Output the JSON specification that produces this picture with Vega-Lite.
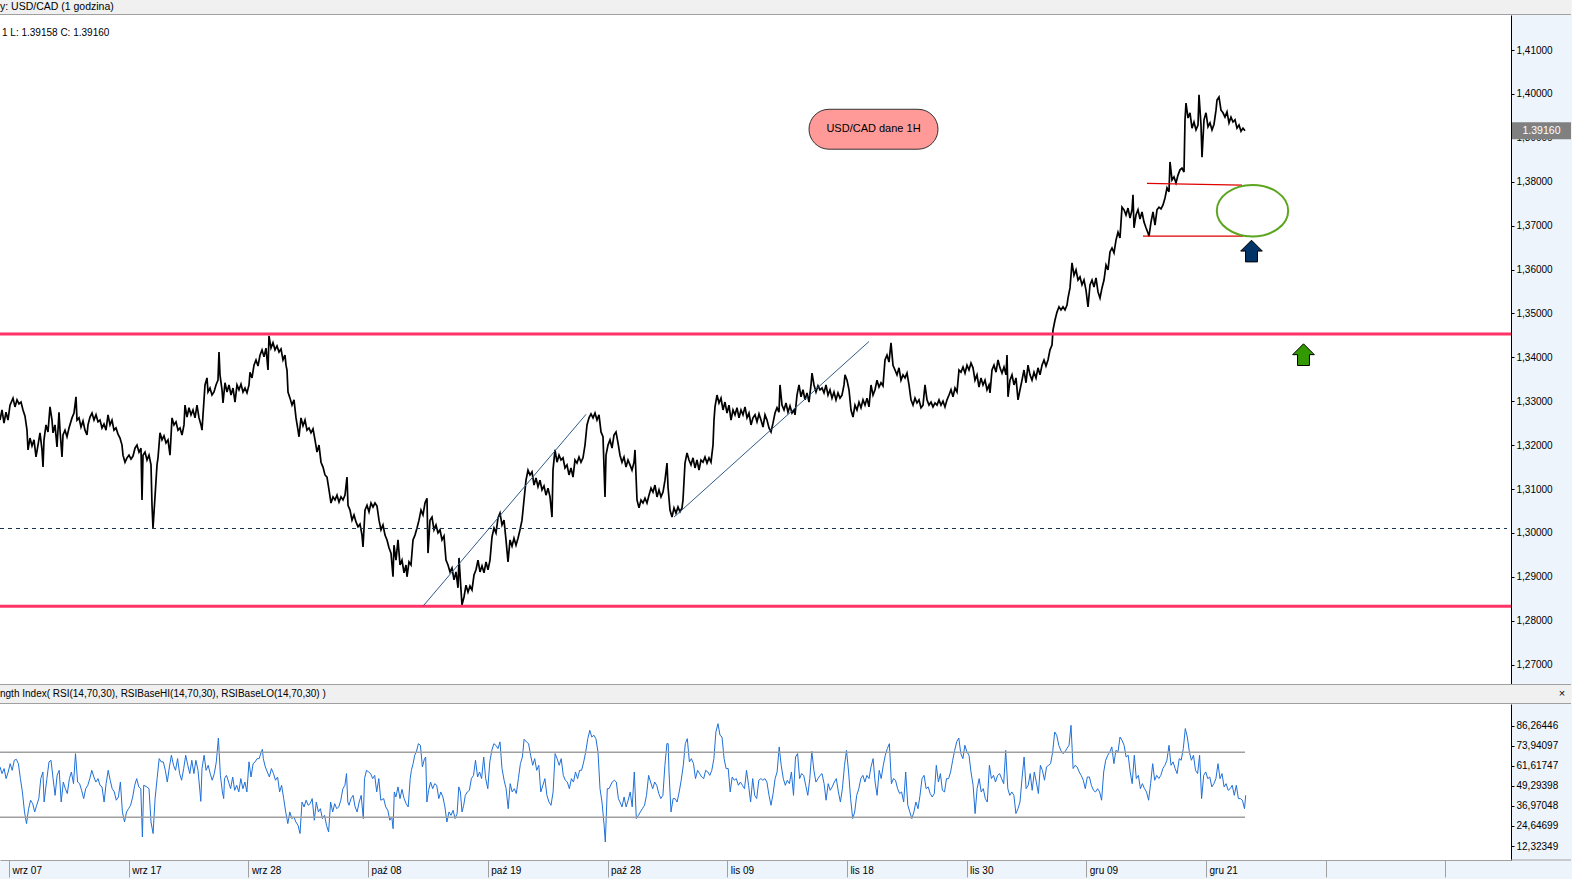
{
  "$schema": "https://vega.github.io/schema/vega-lite/v6.json",
  "description": "USD/CAD 1H with RSI panel",
  "background": "#eef4fc",
  "padding": 0,
  "spacing": 0,
  "config": {
    "font": "Liberation Sans",
    "view": {"stroke": null}
  },
  "datasets": {
    "price": [
      {"n":0,"p":1.3257},{"n":2,"p":1.3280},{"n":4,"p":1.3250},{"n":6,"p":1.3275},{"n":8,"p":1.3257},{"n":10,"p":1.3291},{"n":13,"p":1.3307},{"n":15,"p":1.3287},{"n":17,"p":1.3303},{"n":19,"p":1.3294},{"n":21,"p":1.3298},{"n":23,"p":1.3280},{"n":25,"p":1.3266},{"n":27,"p":1.3234},{"n":28,"p":1.3189},{"n":30,"p":1.3216},{"n":32,"p":1.3198},{"n":34,"p":1.3212},{"n":36,"p":1.3173},{"n":38,"p":1.3200},{"n":40,"p":1.3228},{"n":42,"p":1.3189},{"n":43,"p":1.3150},{"n":44,"p":1.3212},{"n":46,"p":1.3246},{"n":48,"p":1.3230},{"n":50,"p":1.3287},{"n":52,"p":1.3257},{"n":53,"p":1.3228},{"n":55,"p":1.3246},{"n":57,"p":1.3196},{"n":59,"p":1.3275},{"n":60,"p":1.3234},{"n":62,"p":1.3173},{"n":63,"p":1.3223},{"n":65,"p":1.3234},{"n":67,"p":1.3219},{"n":69,"p":1.3239},{"n":72,"p":1.3262},{"n":74,"p":1.3273},{"n":76,"p":1.3310},{"n":77,"p":1.3257},{"n":79,"p":1.3262},{"n":81,"p":1.3241},{"n":83,"p":1.3255},{"n":85,"p":1.3234},{"n":87,"p":1.3223},{"n":88,"p":1.3246},{"n":90,"p":1.3264},{"n":92,"p":1.3273},{"n":94,"p":1.3257},{"n":96,"p":1.3269},{"n":98,"p":1.3253},{"n":100,"p":1.3257},{"n":102,"p":1.3239},{"n":104,"p":1.3248},{"n":106,"p":1.3234},{"n":108,"p":1.3269},{"n":110,"p":1.3246},{"n":112,"p":1.3257},{"n":114,"p":1.3234},{"n":116,"p":1.3239},{"n":118,"p":1.3225},{"n":120,"p":1.3216},{"n":122,"p":1.3200},{"n":123,"p":1.3177},{"n":125,"p":1.3161},{"n":127,"p":1.3171},{"n":129,"p":1.3177},{"n":131,"p":1.3168},{"n":133,"p":1.3175},{"n":135,"p":1.3193},{"n":137,"p":1.3200},{"n":139,"p":1.3184},{"n":141,"p":1.3193},{"n":142,"p":1.3075},{"n":143,"p":1.3177},{"n":145,"p":1.3184},{"n":147,"p":1.3166},{"n":149,"p":1.3177},{"n":151,"p":1.3155},{"n":152,"p":1.3063},{"n":153,"p":1.3011},{"n":155,"p":1.3082},{"n":157,"p":1.3155},{"n":158,"p":1.3171},
      {"n":160,"p":1.3228},{"n":162,"p":1.3212},{"n":164,"p":1.3221},{"n":166,"p":1.3205},{"n":168,"p":1.3212},{"n":170,"p":1.3177},{"n":172,"p":1.3262},{"n":174,"p":1.3246},{"n":176,"p":1.3253},{"n":178,"p":1.3234},{"n":180,"p":1.3239},{"n":182,"p":1.3223},{"n":184,"p":1.3246},{"n":185,"p":1.3291},{"n":187,"p":1.3264},{"n":189,"p":1.3285},{"n":191,"p":1.3269},{"n":193,"p":1.3280},{"n":195,"p":1.3262},{"n":197,"p":1.3291},{"n":199,"p":1.3262},{"n":201,"p":1.3246},{"n":202,"p":1.3234},{"n":204,"p":1.3303},{"n":205,"p":1.3337},{"n":207,"p":1.3353},{"n":208,"p":1.3321},{"n":210,"p":1.3330},{"n":212,"p":1.3314},{"n":214,"p":1.3321},{"n":216,"p":1.3337},{"n":218,"p":1.3348},{"n":219,"p":1.3412},{"n":220,"p":1.3360},{"n":222,"p":1.3326},{"n":223,"p":1.3296},{"n":225,"p":1.3342},{"n":227,"p":1.3321},{"n":229,"p":1.3337},{"n":231,"p":1.3314},{"n":233,"p":1.3330},{"n":235,"p":1.3298},{"n":237,"p":1.3337},{"n":239,"p":1.3326},{"n":241,"p":1.3339},{"n":243,"p":1.3321},{"n":245,"p":1.3330},{"n":247,"p":1.3319},{"n":249,"p":1.3337},{"n":250,"p":1.3366},{"n":252,"p":1.3353},{"n":254,"p":1.3382},{"n":256,"p":1.3394},{"n":258,"p":1.3380},{"n":260,"p":1.3405},{"n":262,"p":1.3417},{"n":264,"p":1.3401},{"n":266,"p":1.3421},{"n":268,"p":1.3371},{"n":269,"p":1.3449},{"n":271,"p":1.3421},{"n":273,"p":1.3433},{"n":275,"p":1.3417},{"n":277,"p":1.3426},{"n":279,"p":1.3412},{"n":281,"p":1.3419},{"n":283,"p":1.3394},{"n":285,"p":1.3405},{"n":286,"p":1.3382},{"n":287,"p":1.3371},{"n":288,"p":1.3321},{"n":290,"p":1.3307},{"n":292,"p":1.3291},{"n":294,"p":1.3303},{"n":296,"p":1.3262},{"n":298,"p":1.3234},{"n":299,"p":1.3219},{"n":301,"p":1.3262},{"n":303,"p":1.3244},{"n":305,"p":1.3257},{"n":307,"p":1.3234},{"n":309,"p":1.3239},{"n":311,"p":1.3228},{"n":313,"p":1.3237},{"n":315,"p":1.3212},{"n":317,"p":1.3184},{"n":319,"p":1.3200},
      {"n":321,"p":1.3161},{"n":323,"p":1.3150},{"n":325,"p":1.3132},{"n":327,"p":1.3127},{"n":329,"p":1.3098},{"n":331,"p":1.3068},{"n":333,"p":1.3082},{"n":335,"p":1.3075},{"n":337,"p":1.3086},{"n":339,"p":1.3070},{"n":341,"p":1.3082},{"n":343,"p":1.3075},{"n":345,"p":1.3086},{"n":347,"p":1.3127},{"n":348,"p":1.3063},{"n":350,"p":1.3052},{"n":352,"p":1.3029},{"n":354,"p":1.3041},{"n":356,"p":1.3025},{"n":358,"p":1.3014},{"n":360,"p":1.3020},{"n":362,"p":1.2995},{"n":363,"p":1.2968},{"n":365,"p":1.3052},{"n":367,"p":1.3063},{"n":369,"p":1.3048},{"n":371,"p":1.3068},{"n":373,"p":1.3059},{"n":375,"p":1.3068},{"n":377,"p":1.3061},{"n":379,"p":1.3029},{"n":381,"p":1.3007},{"n":383,"p":1.3018},{"n":385,"p":1.2995},{"n":387,"p":1.2984},{"n":389,"p":1.2966},{"n":391,"p":1.2954},{"n":393,"p":1.2900},{"n":394,"p":1.2972},{"n":396,"p":1.2938},{"n":398,"p":1.2984},{"n":400,"p":1.2927},{"n":402,"p":1.2938},{"n":404,"p":1.2909},{"n":406,"p":1.2927},{"n":407,"p":1.2900},{"n":409,"p":1.2934},{"n":411,"p":1.2927},{"n":413,"p":1.2984},{"n":415,"p":1.2995},{"n":417,"p":1.3011},{"n":419,"p":1.3029},{"n":421,"p":1.3052},{"n":423,"p":1.3041},{"n":425,"p":1.3068},{"n":427,"p":1.3079},{"n":428,"p":1.2954},{"n":430,"p":1.3029},{"n":432,"p":1.3036},{"n":434,"p":1.3007},{"n":436,"p":1.3018},{"n":438,"p":1.3000},{"n":440,"p":1.3007},{"n":442,"p":1.2984},{"n":444,"p":1.2993},{"n":446,"p":1.2938},{"n":448,"p":1.2927},{"n":450,"p":1.2911},{"n":452,"p":1.2920},{"n":454,"p":1.2893},{"n":456,"p":1.2911},{"n":458,"p":1.2875},{"n":459,"p":1.2943},{"n":461,"p":1.2870},{"n":462,"p":1.2836},{"n":464,"p":1.2854},{"n":466,"p":1.2881},{"n":468,"p":1.2865},{"n":470,"p":1.2879},{"n":472,"p":1.2870},{"n":474,"p":1.2904},{"n":476,"p":1.2916},{"n":478,"p":1.2938},{"n":480,"p":1.2911},{"n":482,"p":1.2925},{"n":484,"p":1.2909},{"n":486,"p":1.2934},{"n":488,"p":1.2916},{"n":490,"p":1.2938},
      {"n":492,"p":1.2991},{"n":494,"p":1.3011},{"n":496,"p":1.3000},{"n":498,"p":1.3034},{"n":500,"p":1.3045},{"n":502,"p":1.3018},{"n":504,"p":1.3029},{"n":506,"p":1.2984},{"n":508,"p":1.2934},{"n":510,"p":1.2984},{"n":512,"p":1.2970},{"n":514,"p":1.2988},{"n":516,"p":1.2972},{"n":518,"p":1.2988},{"n":520,"p":1.3007},{"n":522,"p":1.3029},{"n":524,"p":1.3075},{"n":526,"p":1.3120},{"n":528,"p":1.3143},{"n":530,"p":1.3132},{"n":532,"p":1.3139},{"n":534,"p":1.3109},{"n":536,"p":1.3125},{"n":538,"p":1.3105},{"n":540,"p":1.3120},{"n":542,"p":1.3098},{"n":544,"p":1.3107},{"n":546,"p":1.3086},{"n":548,"p":1.3102},{"n":550,"p":1.3082},{"n":552,"p":1.3036},{"n":553,"p":1.3143},{"n":555,"p":1.3189},{"n":557,"p":1.3161},{"n":559,"p":1.3177},{"n":561,"p":1.3166},{"n":563,"p":1.3171},{"n":565,"p":1.3148},{"n":567,"p":1.3155},{"n":569,"p":1.3132},{"n":571,"p":1.3148},{"n":573,"p":1.3127},{"n":575,"p":1.3166},{"n":577,"p":1.3159},{"n":579,"p":1.3173},{"n":581,"p":1.3161},{"n":583,"p":1.3171},{"n":585,"p":1.3200},{"n":587,"p":1.3246},{"n":589,"p":1.3262},{"n":591,"p":1.3271},{"n":593,"p":1.3262},{"n":595,"p":1.3273},{"n":597,"p":1.3257},{"n":599,"p":1.3269},{"n":601,"p":1.3230},{"n":603,"p":1.3219},{"n":605,"p":1.3082},{"n":606,"p":1.3177},{"n":608,"p":1.3200},{"n":610,"p":1.3212},{"n":612,"p":1.3193},{"n":614,"p":1.3223},{"n":616,"p":1.3230},{"n":618,"p":1.3205},{"n":620,"p":1.3177},{"n":622,"p":1.3161},{"n":624,"p":1.3173},{"n":626,"p":1.3150},{"n":628,"p":1.3166},{"n":630,"p":1.3155},{"n":632,"p":1.3143},{"n":634,"p":1.3161},{"n":635,"p":1.3189},{"n":637,"p":1.3075},{"n":639,"p":1.3057},{"n":641,"p":1.3075},{"n":643,"p":1.3068},{"n":645,"p":1.3079},{"n":647,"p":1.3068},{"n":649,"p":1.3086},{"n":651,"p":1.3102},{"n":653,"p":1.3093},{"n":655,"p":1.3109},{"n":657,"p":1.3082},{"n":659,"p":1.3098},{"n":661,"p":1.3082},{"n":663,"p":1.3093},{"n":665,"p":1.3120},{"n":667,"p":1.3159},{"n":668,"p":1.3105},
      {"n":670,"p":1.3052},{"n":672,"p":1.3036},{"n":674,"p":1.3057},{"n":676,"p":1.3045},{"n":678,"p":1.3059},{"n":680,"p":1.3048},{"n":682,"p":1.3057},{"n":683,"p":1.3075},{"n":685,"p":1.3159},{"n":687,"p":1.3182},{"n":689,"p":1.3166},{"n":691,"p":1.3155},{"n":693,"p":1.3171},{"n":695,"p":1.3148},{"n":697,"p":1.3166},{"n":699,"p":1.3143},{"n":701,"p":1.3166},{"n":703,"p":1.3161},{"n":705,"p":1.3173},{"n":707,"p":1.3159},{"n":709,"p":1.3171},{"n":711,"p":1.3161},{"n":713,"p":1.3200},{"n":714,"p":1.3257},{"n":715,"p":1.3287},{"n":717,"p":1.3314},{"n":719,"p":1.3296},{"n":721,"p":1.3307},{"n":723,"p":1.3280},{"n":725,"p":1.3298},{"n":727,"p":1.3273},{"n":729,"p":1.3291},{"n":731,"p":1.3257},{"n":733,"p":1.3280},{"n":735,"p":1.3269},{"n":737,"p":1.3285},{"n":739,"p":1.3262},{"n":741,"p":1.3280},{"n":743,"p":1.3269},{"n":745,"p":1.3287},{"n":747,"p":1.3262},{"n":749,"p":1.3273},{"n":751,"p":1.3246},{"n":753,"p":1.3262},{"n":755,"p":1.3269},{"n":757,"p":1.3253},{"n":759,"p":1.3271},{"n":761,"p":1.3257},{"n":763,"p":1.3241},{"n":765,"p":1.3269},{"n":767,"p":1.3257},{"n":769,"p":1.3239},{"n":771,"p":1.3230},{"n":773,"p":1.3250},{"n":775,"p":1.3273},{"n":777,"p":1.3285},{"n":779,"p":1.3275},{"n":780,"p":1.3337},{"n":782,"p":1.3291},{"n":784,"p":1.3280},{"n":786,"p":1.3296},{"n":788,"p":1.3275},{"n":790,"p":1.3289},{"n":792,"p":1.3273},{"n":794,"p":1.3280},{"n":795,"p":1.3269},{"n":797,"p":1.3314},{"n":799,"p":1.3337},{"n":801,"p":1.3310},{"n":803,"p":1.3326},{"n":805,"p":1.3303},{"n":807,"p":1.3319},{"n":809,"p":1.3298},{"n":811,"p":1.3337},{"n":812,"p":1.3364},{"n":814,"p":1.3337},{"n":816,"p":1.3321},{"n":818,"p":1.3335},{"n":820,"p":1.3326},{"n":822,"p":1.3330},{"n":824,"p":1.3319},{"n":826,"p":1.3337},{"n":828,"p":1.3314},{"n":830,"p":1.3326},{"n":832,"p":1.3307},{"n":834,"p":1.3321},{"n":836,"p":1.3303},{"n":838,"p":1.3319},{"n":840,"p":1.3307},{"n":842,"p":1.3314},{"n":844,"p":1.3337},{"n":845,"p":1.3360},{"n":847,"p":1.3348},{"n":849,"p":1.3326},
      {"n":851,"p":1.3280},{"n":853,"p":1.3264},{"n":855,"p":1.3291},{"n":857,"p":1.3280},{"n":859,"p":1.3298},{"n":861,"p":1.3285},{"n":863,"p":1.3303},{"n":865,"p":1.3291},{"n":867,"p":1.3307},{"n":869,"p":1.3287},{"n":871,"p":1.3337},{"n":873,"p":1.3314},{"n":875,"p":1.3326},{"n":877,"p":1.3348},{"n":879,"p":1.3332},{"n":881,"p":1.3342},{"n":883,"p":1.3335},{"n":885,"p":1.3394},{"n":887,"p":1.3405},{"n":889,"p":1.3389},{"n":891,"p":1.3433},{"n":893,"p":1.3382},{"n":895,"p":1.3371},{"n":897,"p":1.3360},{"n":899,"p":1.3376},{"n":901,"p":1.3348},{"n":903,"p":1.3360},{"n":905,"p":1.3353},{"n":907,"p":1.3364},{"n":909,"p":1.3337},{"n":911,"p":1.3303},{"n":913,"p":1.3291},{"n":915,"p":1.3307},{"n":917,"p":1.3296},{"n":919,"p":1.3303},{"n":921,"p":1.3285},{"n":923,"p":1.3291},{"n":925,"p":1.3337},{"n":927,"p":1.3303},{"n":929,"p":1.3291},{"n":931,"p":1.3298},{"n":933,"p":1.3287},{"n":935,"p":1.3296},{"n":937,"p":1.3291},{"n":939,"p":1.3303},{"n":941,"p":1.3291},{"n":943,"p":1.3300},{"n":945,"p":1.3287},{"n":947,"p":1.3303},{"n":949,"p":1.3314},{"n":951,"p":1.3326},{"n":953,"p":1.3310},{"n":955,"p":1.3330},{"n":957,"p":1.3321},{"n":959,"p":1.3371},{"n":961,"p":1.3366},{"n":963,"p":1.3378},{"n":965,"p":1.3364},{"n":967,"p":1.3382},{"n":969,"p":1.3371},{"n":971,"p":1.3387},{"n":973,"p":1.3376},{"n":975,"p":1.3348},{"n":977,"p":1.3360},{"n":979,"p":1.3332},{"n":981,"p":1.3353},{"n":983,"p":1.3337},{"n":985,"p":1.3348},{"n":987,"p":1.3326},{"n":989,"p":1.3337},{"n":990,"p":1.3319},{"n":992,"p":1.3371},{"n":994,"p":1.3382},{"n":996,"p":1.3366},{"n":998,"p":1.3394},{"n":1000,"p":1.3376},{"n":1002,"p":1.3364},{"n":1004,"p":1.3378},{"n":1006,"p":1.3360},{"n":1007,"p":1.3405},{"n":1008,"p":1.3310},{"n":1010,"p":1.3348},{"n":1012,"p":1.3360},{"n":1014,"p":1.3337},{"n":1016,"p":1.3353},{"n":1018,"p":1.3303},{"n":1020,"p":1.3326},{"n":1022,"p":1.3348},{"n":1024,"p":1.3371},{"n":1026,"p":1.3342},{"n":1028,"p":1.3382},{"n":1030,"p":1.3360},{"n":1032,"p":1.3348},{"n":1034,"p":1.3366},{"n":1036,"p":1.3353},{"n":1038,"p":1.3376},{"n":1040,"p":1.3360},{"n":1042,"p":1.3382},{"n":1044,"p":1.3394},{"n":1046,"p":1.3380},{"n":1048,"p":1.3394},
      {"n":1050,"p":1.3417},{"n":1052,"p":1.3428},{"n":1053,"p":1.3462},{"n":1055,"p":1.3485},{"n":1057,"p":1.3503},{"n":1059,"p":1.3515},{"n":1061,"p":1.3508},{"n":1063,"p":1.3515},{"n":1065,"p":1.3508},{"n":1067,"p":1.3519},{"n":1068,"p":1.3535},{"n":1070,"p":1.3558},{"n":1072,"p":1.3615},{"n":1074,"p":1.3587},{"n":1076,"p":1.3599},{"n":1078,"p":1.3576},{"n":1080,"p":1.3583},{"n":1082,"p":1.3565},{"n":1084,"p":1.3576},{"n":1086,"p":1.3553},{"n":1088,"p":1.3515},{"n":1090,"p":1.3565},{"n":1092,"p":1.3576},{"n":1094,"p":1.3560},{"n":1096,"p":1.3581},{"n":1098,"p":1.3549},{"n":1100,"p":1.3535},{"n":1102,"p":1.3558},{"n":1104,"p":1.3576},{"n":1106,"p":1.3610},{"n":1108,"p":1.3599},{"n":1110,"p":1.3640},{"n":1112,"p":1.3649},{"n":1114,"p":1.3638},{"n":1116,"p":1.3667},{"n":1118,"p":1.3685},{"n":1120,"p":1.3672},{"n":1122,"p":1.3742},{"n":1124,"p":1.3736},{"n":1126,"p":1.3724},{"n":1128,"p":1.3740},{"n":1130,"p":1.3717},{"n":1132,"p":1.3736},{"n":1133,"p":1.3770},{"n":1134,"p":1.3695},{"n":1136,"p":1.3724},{"n":1138,"p":1.3736},{"n":1140,"p":1.3715},{"n":1142,"p":1.3731},{"n":1144,"p":1.3708},{"n":1146,"p":1.3695},{"n":1148,"p":1.3683},{"n":1149,"p":1.3676},{"n":1151,"p":1.3708},{"n":1153,"p":1.3731},{"n":1155,"p":1.3701},{"n":1157,"p":1.3736},{"n":1159,"p":1.3742},{"n":1161,"p":1.3738},{"n":1163,"p":1.3747},{"n":1165,"p":1.3763},{"n":1167,"p":1.3786},{"n":1169,"p":1.3777},{"n":1170,"p":1.3845},{"n":1172,"p":1.3804},{"n":1174,"p":1.3811},{"n":1176,"p":1.3797},{"n":1178,"p":1.3815},{"n":1180,"p":1.3827},{"n":1182,"p":1.3831},{"n":1184,"p":1.3822},{"n":1185,"p":1.3941},{"n":1186,"p":1.3979},{"n":1188,"p":1.3945},{"n":1190,"p":1.3957},{"n":1192,"p":1.3922},{"n":1194,"p":1.3936},{"n":1196,"p":1.3918},{"n":1198,"p":1.3929},{"n":1199,"p":1.3998},{"n":1201,"p":1.3929},{"n":1202,"p":1.3856},{"n":1204,"p":1.3941},{"n":1206,"p":1.3957},{"n":1208,"p":1.3925},{"n":1210,"p":1.3934},{"n":1212,"p":1.3918},{"n":1214,"p":1.3931},{"n":1216,"p":1.3963},{"n":1217,"p":1.3986},{"n":1219,"p":1.3993},{"n":1221,"p":1.3963},{"n":1223,"p":1.3957},{"n":1225,"p":1.3947},{"n":1227,"p":1.3959},{"n":1229,"p":1.3934},{"n":1231,"p":1.3947},{"n":1233,"p":1.3936},{"n":1235,"p":1.3941},{"n":1237,"p":1.3922},{"n":1239,"p":1.3929},{"n":1241,"p":1.3915},{"n":1243,"p":1.3922},{"n":1245,"p":1.3916}
    ],
    "rsi": [
      {"n":0,"r":61.0},{"n":2.0,"r":56.9},{"n":4.1,"r":60.0},{"n":6.1,"r":53.8},{"n":8.2,"r":57.9},{"n":10.2,"r":63.0},{"n":12.2,"r":58.9},{"n":14.3,"r":65.1},{"n":16.3,"r":65.7},{"n":18.4,"r":63.0},{"n":20.4,"r":53.8},{"n":22.4,"r":45.6},{"n":24.5,"r":33.3},{"n":26.5,"r":26.1},{"n":28.6,"r":35.3},{"n":30.6,"r":40.5},{"n":32.7,"r":38.4},{"n":34.7,"r":33.3},{"n":36.7,"r":37.4},{"n":38.8,"r":41.5},{"n":40.8,"r":53.8},{"n":42.9,"r":57.9},{"n":44.1,"r":39.4},{"n":46.9,"r":53.8},{"n":49.0,"r":64.1},{"n":51.0,"r":65.1},{"n":53.1,"r":53.8},{"n":55.1,"r":43.5},{"n":57.1,"r":55.8},{"n":59.2,"r":58.9},{"n":61.2,"r":39.4},{"n":63.3,"r":51.7},{"n":65.3,"r":47.6},{"n":67.3,"r":44.6},{"n":69.4,"r":53.8},{"n":71.4,"r":57.9},{"n":73.5,"r":50.7},{"n":75.5,"r":69.2},{"n":77.6,"r":51.7},{"n":79.6,"r":50.7},{"n":81.6,"r":46.6},{"n":83.7,"r":41.5},{"n":85.7,"r":47.6},{"n":87.8,"r":49.7},{"n":89.8,"r":53.8},{"n":91.8,"r":58.9},{"n":93.9,"r":54.8},{"n":95.9,"r":51.7},{"n":98.0,"r":53.8},{"n":100.0,"r":49.7},{"n":102.0,"r":48.7},{"n":104.1,"r":39.4},{"n":106.1,"r":50.7},{"n":108.2,"r":58.9},{"n":110.2,"r":52.8},{"n":112.2,"r":47.6},{"n":114.3,"r":45.6},{"n":116.3,"r":40.5},{"n":118.4,"r":42.5},{"n":120.4,"r":51.7},{"n":122.4,"r":33.3},{"n":124.5,"r":27.1},{"n":126.5,"r":33.3},{"n":128.6,"r":35.3},{"n":130.6,"r":37.4},{"n":132.7,"r":42.5},{"n":134.7,"r":49.7},{"n":136.7,"r":53.8},{"n":138.8,"r":48.7},{"n":140.8,"r":47.6},{"n":142.4,"r":17.9},{"n":143.7,"r":49.7},{"n":146.9,"r":48.7},{"n":149.0,"r":47.6},{"n":151.0,"r":27.1},{"n":153.1,"r":20.0},{"n":155.1,"r":41.5},{"n":157.1,"r":53.8},{"n":159.2,"r":66.1},{"n":161.2,"r":64.1},{"n":163.3,"r":64.1},{"n":165.3,"r":58.9},{"n":167.3,"r":51.7},{"n":169.4,"r":61.0},{"n":171.4,"r":68.2},{"n":173.5,"r":62.0},{"n":175.5,"r":58.9},{"n":177.6,"r":66.1},{"n":179.6,"r":56.9},{"n":181.6,"r":52.8},{"n":183.7,"r":60.0},{"n":185.7,"r":68.2},{"n":187.8,"r":62.0},{"n":189.8,"r":56.9},{"n":191.8,"r":65.1},{"n":193.9,"r":56.9},{"n":195.9,"r":65.1},{"n":198.0,"r":58.9},{"n":200.0,"r":45.6},{"n":200.8,"r":39.8},{"n":202.0,"r":60.0},{"n":204.1,"r":68.2},{"n":206.1,"r":58.9},{"n":208.2,"r":62.0},{"n":210.2,"r":56.9},{"n":212.2,"r":52.8},{"n":214.3,"r":56.9},{"n":216.3,"r":64.1},{"n":218.4,"r":78.8},{"n":220.4,"r":55.8},{"n":222.4,"r":45.6},{"n":223.7,"r":41.5},{"n":224.5,"r":53.8},{"n":226.5,"r":55.8},{"n":228.6,"r":51.7},{"n":230.6,"r":47.6},{"n":232.7,"r":54.8},{"n":234.7,"r":46.6},{"n":236.7,"r":49.7},{"n":238.8,"r":45.6},{"n":240.8,"r":53.8},{"n":242.9,"r":47.6},{"n":244.9,"r":51.7},{"n":246.9,"r":45.6},{"n":249.0,"r":64.1},{"n":251.0,"r":54.8},{"n":253.1,"r":63.0},{"n":255.1,"r":64.1},{"n":257.1,"r":66.1},{"n":259.2,"r":66.1},{"n":261.2,"r":70.2},{"n":262.4,"r":71.8},{"n":263.3,"r":66.1},{"n":265.3,"r":61.0},{"n":267.3,"r":57.9},{"n":269.4,"r":54.8},{"n":271.4,"r":60.0},{"n":273.5,"r":56.9},{"n":275.5,"r":52.8},{"n":277.6,"r":54.8},{"n":279.6,"r":45.6},{"n":281.6,"r":49.7},{"n":283.7,"r":41.5},{"n":285.7,"r":33.3},{"n":287.8,"r":26.1},{"n":289.8,"r":33.3},{"n":291.8,"r":29.2},{"n":293.9,"r":30.2},{"n":295.9,"r":27.1},{"n":298.0,"r":25.1},{"n":300.0,"r":20.0},{"n":302.0,"r":39.4},{"n":304.1,"r":36.4},{"n":306.1,"r":40.5},{"n":308.2,"r":37.4},{"n":310.2,"r":38.4},{"n":312.2,"r":41.5},{"n":314.3,"r":28.2},{"n":316.3,"r":39.4},{"n":318.4,"r":33.3},{"n":320.4,"r":35.3},{"n":322.4,"r":29.2},{"n":324.5,"r":31.2},{"n":326.5,"r":25.1},{"n":328.6,"r":21.0},{"n":330.6,"r":39.4},{"n":332.7,"r":33.3},{"n":334.7,"r":38.4},{"n":336.7,"r":35.3},{"n":338.8,"r":36.4},{"n":340.8,"r":40.5},{"n":342.9,"r":47.6},{"n":344.9,"r":49.7},{"n":346.5,"r":56.9},{"n":347.8,"r":39.4},{"n":349.0,"r":37.4},{"n":351.0,"r":41.5},{"n":353.1,"r":43.5},{"n":355.1,"r":36.4},{"n":357.1,"r":33.3},{"n":359.2,"r":39.4},{"n":361.2,"r":43.5},{"n":363.3,"r":29.2},{"n":364.5,"r":53.8},{"n":366.5,"r":58.9},{"n":368.6,"r":57.9},{"n":370.6,"r":56.9},{"n":372.7,"r":53.8},{"n":374.7,"r":55.8},{"n":376.7,"r":45.6},{"n":378.8,"r":53.8},{"n":380.8,"r":40.5},{"n":383.7,"r":41.5},{"n":385.7,"r":36.4},{"n":387.8,"r":34.3},{"n":389.8,"r":28.2},{"n":391.8,"r":30.2},{"n":393.1,"r":23.0},{"n":394.3,"r":45.6},{"n":395.9,"r":42.5},{"n":398.0,"r":48.7},{"n":400.0,"r":41.5},{"n":402.0,"r":47.2},{"n":404.1,"r":41.5},{"n":406.1,"r":38.4},{"n":408.2,"r":36.4},{"n":410.2,"r":53.8},{"n":411.4,"r":58.9},{"n":413.1,"r":63.0},{"n":414.7,"r":68.2},{"n":416.3,"r":70.2},{"n":418.4,"r":75.3},{"n":420.4,"r":74.3},{"n":422.4,"r":61.0},{"n":424.5,"r":66.1},{"n":425.7,"r":67.1},{"n":426.9,"r":39.4},{"n":428.6,"r":46.6},{"n":430.6,"r":51.7},{"n":432.7,"r":47.6},{"n":434.7,"r":50.7},{"n":436.7,"r":49.7},{"n":438.8,"r":41.5},{"n":440.8,"r":45.6},{"n":442.9,"r":42.5},{"n":444.9,"r":36.4},{"n":446.9,"r":27.1},{"n":449.0,"r":33.3},{"n":451.0,"r":31.2},{"n":453.1,"r":34.3},{"n":455.1,"r":29.2},{"n":457.1,"r":32.3},{"n":458.8,"r":48.7},{"n":460.4,"r":45.6},{"n":462.0,"r":33.3},{"n":463.7,"r":37.4},{"n":465.3,"r":43.5},{"n":467.3,"r":45.6},{"n":469.4,"r":46.6},{"n":471.4,"r":53.8},{"n":473.5,"r":55.8},{"n":475.5,"r":65.1},{"n":477.6,"r":54.8},{"n":479.6,"r":57.9},{"n":481.6,"r":53.8},{"n":483.7,"r":67.1},{"n":485.7,"r":53.8},{"n":487.8,"r":47.6},{"n":489.8,"r":64.1},{"n":491.8,"r":71.2},{"n":493.9,"r":75.3},{"n":495.9,"r":74.3},{"n":498.0,"r":72.3},{"n":500.0,"r":76.4},{"n":502.0,"r":60.0},{"n":504.1,"r":52.8},{"n":506.1,"r":47.6},{"n":508.2,"r":35.3},{"n":510.2,"r":50.7},{"n":512.2,"r":45.6},{"n":514.3,"r":47.6},{"n":516.3,"r":44.6},{"n":518.4,"r":53.8},{"n":520.4,"r":63.0},{"n":522.4,"r":67.1},{"n":524.1,"r":78.0},{"n":526.5,"r":76.4},{"n":528.6,"r":75.3},{"n":530.6,"r":68.2},{"n":532.7,"r":62.0},{"n":534.7,"r":66.1},{"n":536.7,"r":58.9},{"n":538.8,"r":62.0},{"n":540.8,"r":45.6},{"n":542.9,"r":49.7},{"n":544.9,"r":53.8},{"n":546.9,"r":43.5},{"n":549.0,"r":39.4},{"n":551.0,"r":37.4},{"n":553.1,"r":45.6},{"n":555.1,"r":69.2},{"n":557.1,"r":66.1},{"n":559.2,"r":62.0},{"n":561.2,"r":66.1},{"n":563.3,"r":55.8},{"n":565.3,"r":52.8},{"n":567.3,"r":51.7},{"n":569.4,"r":47.6},{"n":571.4,"r":53.8},{"n":573.5,"r":51.7},{"n":575.5,"r":57.9},{"n":577.6,"r":53.8},{"n":579.6,"r":58.9},{"n":581.6,"r":58.9},{"n":583.7,"r":64.1},{"n":585.7,"r":70.2},{"n":587.8,"r":78.4},{"n":589.8,"r":83.5},{"n":591.8,"r":79.4},{"n":593.9,"r":80.5},{"n":595.9,"r":78.4},{"n":598.0,"r":70.2},{"n":600.0,"r":47.6},{"n":602.0,"r":39.4},{"n":604.1,"r":25.1},{"n":605.3,"r":14.8},{"n":607.3,"r":47.6},{"n":609.0,"r":47.6},{"n":612.2,"r":51.7},{"n":614.3,"r":52.8},{"n":616.3,"r":51.7},{"n":618.4,"r":41.5},
      {"n":620.0,"r":39.4},{"n":622.0,"r":36.4},{"n":624.1,"r":42.5},{"n":626.1,"r":36.4},{"n":628.2,"r":40.5},{"n":630.2,"r":45.6},{"n":632.2,"r":36.4},{"n":634.3,"r":57.9},{"n":636.3,"r":29.2},{"n":638.4,"r":31.2},{"n":640.4,"r":33.3},{"n":642.4,"r":35.3},{"n":644.5,"r":37.4},{"n":646.5,"r":43.5},{"n":648.6,"r":55.8},{"n":650.6,"r":51.7},{"n":652.7,"r":47.6},{"n":654.7,"r":51.7},{"n":656.7,"r":49.7},{"n":658.8,"r":44.6},{"n":660.8,"r":41.5},{"n":662.9,"r":43.5},{"n":664.9,"r":62.0},{"n":666.9,"r":75.3},{"n":668.2,"r":75.3},{"n":669.0,"r":57.9},{"n":671.0,"r":33.3},{"n":673.1,"r":41.5},{"n":675.1,"r":41.5},{"n":677.1,"r":39.4},{"n":679.2,"r":45.6},{"n":681.2,"r":52.8},{"n":683.3,"r":62.0},{"n":685.3,"r":75.3},{"n":687.3,"r":78.4},{"n":689.4,"r":64.1},{"n":691.4,"r":66.1},{"n":693.5,"r":63.0},{"n":695.5,"r":53.8},{"n":697.6,"r":58.9},{"n":699.6,"r":56.9},{"n":701.6,"r":54.8},{"n":703.7,"r":53.8},{"n":705.7,"r":58.9},{"n":707.8,"r":57.9},{"n":709.8,"r":55.8},{"n":711.8,"r":58.9},{"n":713.9,"r":66.1},{"n":715.9,"r":82.5},{"n":718.0,"r":87.6},{"n":720.0,"r":80.5},{"n":722.0,"r":79.4},{"n":724.1,"r":66.1},{"n":726.1,"r":60.0},{"n":728.2,"r":60.0},{"n":730.2,"r":45.6},{"n":732.2,"r":54.8},{"n":734.3,"r":52.8},{"n":736.3,"r":53.8},{"n":738.4,"r":49.7},{"n":740.4,"r":51.7},{"n":742.4,"r":49.7},{"n":744.5,"r":47.6},{"n":746.5,"r":58.9},{"n":748.6,"r":49.7},{"n":750.6,"r":39.4},{"n":752.7,"r":53.8},{"n":754.7,"r":43.5},{"n":756.7,"r":41.5},{"n":758.8,"r":52.8},{"n":760.8,"r":53.8},{"n":762.9,"r":52.8},{"n":764.9,"r":53.8},{"n":766.9,"r":51.7},{"n":769.0,"r":43.5},{"n":771.0,"r":37.4},{"n":773.1,"r":44.6},{"n":775.1,"r":53.8},{"n":777.1,"r":57.9},{"n":779.2,"r":73.3},{"n":781.2,"r":62.0},{"n":783.3,"r":53.8},{"n":785.3,"r":49.7},{"n":787.3,"r":52.8},{"n":789.4,"r":50.7},{"n":791.4,"r":57.9},{"n":793.5,"r":43.5},{"n":795.5,"r":67.1},{"n":797.6,"r":69.2},{"n":799.6,"r":53.8},{"n":801.6,"r":56.9},{"n":803.7,"r":55.8},{"n":805.7,"r":49.7},{"n":807.8,"r":43.5},{"n":809.8,"r":53.8},{"n":811.8,"r":70.6},{"n":813.9,"r":58.9},{"n":815.9,"r":51.7},{"n":818.0,"r":53.8},{"n":820.0,"r":55.8},{"n":822.0,"r":56.9},{"n":824.1,"r":50.7},{"n":826.1,"r":40.5},{"n":828.2,"r":50.7},{"n":830.2,"r":46.6},{"n":832.2,"r":48.7},{"n":834.3,"r":51.7},{"n":836.3,"r":53.8},{"n":838.4,"r":45.6},{"n":840.4,"r":39.4},{"n":842.4,"r":47.6},{"n":844.5,"r":62.0},{"n":846.5,"r":71.2},{"n":848.6,"r":57.9},{"n":850.6,"r":41.5},{"n":852.7,"r":29.2},{"n":854.7,"r":33.3},{"n":856.7,"r":43.5},{"n":858.8,"r":47.6},{"n":860.8,"r":53.8},{"n":862.9,"r":55.8},{"n":864.9,"r":51.7},{"n":866.9,"r":55.8},{"n":869.0,"r":53.8},{"n":871.0,"r":61.0},{"n":873.1,"r":66.1},{"n":875.1,"r":51.7},{"n":877.1,"r":43.5},{"n":879.2,"r":58.9},{"n":881.2,"r":53.8},{"n":883.3,"r":62.0},{"n":885.3,"r":68.2},{"n":887.3,"r":72.3},{"n":889.4,"r":75.3},{"n":891.4,"r":50.7},{"n":893.5,"r":53.8},{"n":895.5,"r":52.8},{"n":897.6,"r":47.6},{"n":899.6,"r":44.6},{"n":901.6,"r":45.6},{"n":903.7,"r":39.4},{"n":905.7,"r":57.9},{"n":907.8,"r":37.4},{"n":909.8,"r":33.3},{"n":911.8,"r":29.2},{"n":913.9,"r":33.3},{"n":915.9,"r":39.4},{"n":918.0,"r":35.3},{"n":920.0,"r":43.5},{"n":922.0,"r":53.8},{"n":924.1,"r":55.8},{"n":926.1,"r":47.6},{"n":928.2,"r":48.7},{"n":930.2,"r":44.6},{"n":932.2,"r":42.5},{"n":934.3,"r":44.6},{"n":936.3,"r":62.0},{"n":938.4,"r":51.7},{"n":940.4,"r":56.9},{"n":942.4,"r":46.6},{"n":944.5,"r":45.6},{"n":946.5,"r":53.8},{"n":948.6,"r":53.8},{"n":950.6,"r":57.9},{"n":952.7,"r":65.1},{"n":954.7,"r":71.2},{"n":956.7,"r":76.4},{"n":958.8,"r":78.8},{"n":960.8,"r":69.2},{"n":962.9,"r":66.1},{"n":964.9,"r":74.3},{"n":966.9,"r":70.2},{"n":969.0,"r":68.2},{"n":971.0,"r":57.9},{"n":973.1,"r":49.7},{"n":975.1,"r":32.3},{"n":977.1,"r":47.6},{"n":979.2,"r":53.8},{"n":981.2,"r":45.6},{"n":983.3,"r":47.6},{"n":985.3,"r":41.5},{"n":987.3,"r":39.4},{"n":989.4,"r":62.0},{"n":991.4,"r":53.8},{"n":993.5,"r":55.8},{"n":995.5,"r":51.7},{"n":997.6,"r":55.8},{"n":999.6,"r":56.9},{"n":1001.6,"r":53.8},{"n":1003.7,"r":50.7},{"n":1005.7,"r":71.2},{"n":1007.8,"r":47.6},{"n":1009.8,"r":43.5},{"n":1011.8,"r":45.6},{"n":1013.9,"r":43.5},{"n":1015.9,"r":32.3},{"n":1018.0,"r":35.3},{"n":1020.0,"r":39.4},{"n":1022.0,"r":53.8},{"n":1024.1,"r":67.1},{"n":1026.1,"r":47.6},{"n":1028.2,"r":49.7},{"n":1030.2,"r":56.9},{"n":1032.2,"r":46.6},{"n":1034.3,"r":57.9},{"n":1036.3,"r":51.7},{"n":1038.4,"r":44.6},{"n":1040.4,"r":62.0},{"n":1042.4,"r":58.9},{"n":1044.5,"r":52.8},{"n":1046.5,"r":61.0},{"n":1048.6,"r":62.0},{"n":1050.6,"r":63.0},{"n":1052.7,"r":70.2},{"n":1054.7,"r":82.5},{"n":1056.7,"r":80.5},{"n":1058.8,"r":74.3},{"n":1060.8,"r":71.2},{"n":1062.9,"r":69.2},{"n":1064.9,"r":70.2},{"n":1066.9,"r":72.3},{"n":1069.0,"r":74.3},{"n":1071.0,"r":86.6},{"n":1073.1,"r":60.0},{"n":1075.1,"r":62.0},{"n":1077.1,"r":61.0},{"n":1079.2,"r":57.9},{"n":1081.2,"r":55.8},{"n":1083.3,"r":52.8},{"n":1085.3,"r":47.6},{"n":1087.3,"r":54.8},{"n":1089.4,"r":54.8},{"n":1091.4,"r":49.7},{"n":1093.5,"r":46.6},{"n":1095.5,"r":45.6},{"n":1097.6,"r":47.6},{"n":1099.6,"r":45.6},{"n":1101.6,"r":40.5},{"n":1103.7,"r":57.9},{"n":1105.7,"r":65.1},{"n":1107.8,"r":68.2},{"n":1109.8,"r":70.2},{"n":1111.8,"r":73.3},{"n":1113.9,"r":63.0},{"n":1115.9,"r":71.2},{"n":1118.0,"r":70.2},{"n":1120.0,"r":79.4},{"n":1122.0,"r":77.4},{"n":1124.1,"r":74.3},{"n":1126.1,"r":67.1},{"n":1128.2,"r":68.2},{"n":1130.2,"r":57.9},{"n":1132.2,"r":50.7},{"n":1134.3,"r":68.2},{"n":1136.3,"r":53.8},{"n":1138.4,"r":55.8},{"n":1140.4,"r":47.6},{"n":1142.4,"r":50.7},{"n":1144.5,"r":47.6},{"n":1146.5,"r":45.6},{"n":1148.6,"r":40.5},{"n":1150.6,"r":50.7},{"n":1152.7,"r":63.0},{"n":1154.7,"r":52.8},{"n":1156.7,"r":55.8},{"n":1158.8,"r":53.8},{"n":1160.8,"r":55.8},{"n":1162.9,"r":60.0},{"n":1164.9,"r":62.0},{"n":1166.9,"r":65.1},{"n":1169.0,"r":74.3},{"n":1171.0,"r":62.0},{"n":1173.1,"r":64.1},{"n":1175.1,"r":60.0},{"n":1177.1,"r":56.9},{"n":1179.2,"r":66.1},{"n":1181.2,"r":65.1},{"n":1183.3,"r":72.3},{"n":1185.3,"r":84.6},{"n":1187.3,"r":79.4},{"n":1189.4,"r":70.2},{"n":1191.4,"r":65.1},{"n":1193.5,"r":68.2},{"n":1195.5,"r":58.9},{"n":1197.6,"r":56.9},{"n":1199.6,"r":68.2},{"n":1201.6,"r":41.5},{"n":1203.7,"r":55.8},{"n":1205.7,"r":57.9},{"n":1207.8,"r":53.8},{"n":1209.8,"r":54.8},{"n":1211.8,"r":48.7},{"n":1213.9,"r":50.7},{"n":1215.9,"r":53.8},{"n":1218.0,"r":63.0},{"n":1220.0,"r":53.8},{"n":1222.0,"r":56.9},{"n":1224.1,"r":48.7},{"n":1226.1,"r":50.7},{"n":1228.2,"r":46.6},{"n":1230.2,"r":47.6},{"n":1232.2,"r":49.7},{"n":1234.3,"r":43.5},{"n":1236.3,"r":49.7},{"n":1238.4,"r":41.5},{"n":1240.4,"r":41.5},{"n":1242.4,"r":40.5},{"n":1244.5,"r":35.3},{"n":1245.7,"r":43.5}
    ]
  },
  "vconcat": [
    {
      "width": 1571,
      "height": 15,
      "view": {"fill": "#f0f0f0", "stroke": null},
      "encoding": {
        "x": {"datum": 0, "type": "quantitative", "scale": {"domain": [0, 1]}, "axis": null}
      },
      "layer": [
        {
          "data": {"values": [{"t": "y: USD/CAD (1 godzina)"}]},
          "mark": {"type": "text", "align": "left", "baseline": "middle", "fontSize": 10.5, "color": "#000000", "dy": -1},
          "encoding": {"text": {"field": "t"}}
        },
        {
          "data": {"values": [{"edge": 0}]},
          "mark": {"type": "rule", "color": "#a0a0a0", "strokeWidth": 2, "clip": true},
          "encoding": {
            "x": {"datum": 0, "type": "quantitative", "scale": {"domain": [0, 1]}, "axis": null},
            "x2": {"datum": 1},
            "y": {"field": "edge", "type": "quantitative", "scale": {"domain": [0, 1]}, "axis": null}
          }
        }
      ]
    },
    {
      "width": 1511,
      "height": 669,
      "view": {"fill": "#ffffff", "stroke": null},
      "encoding": {
        "x": {"field": "n", "type": "quantitative", "scale": {"domain": [0, 1511], "nice": false, "zero": false}, "axis": null},
        "y": {
          "field": "p",
          "type": "quantitative",
          "scale": {"domain": [1.265581, 1.417973], "nice": false, "zero": false},
          "axis": {
            "orient": "right",
            "title": null,
            "values": [1.27, 1.28, 1.29, 1.30, 1.31, 1.32, 1.33, 1.34, 1.35, 1.36, 1.37, 1.38, 1.39, 1.40, 1.41],
            "labelExpr": "replace(format(datum.value, '.5f'), '.', ',')",
            "grid": false,
            "tickSize": 3,
            "tickColor": "#000000",
            "domainColor": "#000000",
            "labelPadding": 2,
            "labelFontSize": 10,
            "labelColor": "#000000",
            "labelOverlap": false
          }
        }
      },
      "layer": [
        {
          "data": {"name": "price"},
          "mark": {"type": "line", "color": "#000000", "strokeWidth": 1.7, "clip": true}
        },
        {
          "data": {"values": [{"n": 0, "n2": 1511, "p": 1.3453}, {"n": 0, "n2": 1511, "p": 1.2833}]},
          "mark": {"type": "rule", "color": "#ff3366", "strokeWidth": 3, "clip": true},
          "encoding": {"x2": {"field": "n2"}}
        },
        {
          "data": {"values": [{"n": 0, "n2": 1507, "p": 1.3010}]},
          "mark": {"type": "rule", "color": "#1a3350", "strokeWidth": 1, "strokeDash": [4, 4], "clip": true},
          "encoding": {"x2": {"field": "n2"}}
        },
        {
          "data": {"values": [
            {"n": 423, "n2": 586, "p": 1.2833, "p2": 1.3270},
            {"n": 674, "n2": 869, "p": 1.3036, "p2": 1.3436}
          ]},
          "mark": {"type": "rule", "color": "#2f5a87", "strokeWidth": 1},
          "encoding": {"x2": {"field": "n2"}, "y2": {"field": "p2"}}
        },
        {
          "data": {"values": [
            {"n": 1147, "n2": 1242, "p": 1.3796, "p2": 1.3792},
            {"n": 1143, "n2": 1243, "p": 1.3676, "p2": 1.3676}
          ]},
          "mark": {"type": "rule", "color": "#e00000", "strokeWidth": 1.2},
          "encoding": {"x2": {"field": "n2"}, "y2": {"field": "p2"}}
        },
        {
          "data": {"values": [{"n": 809, "n2": 938, "p": 1.3965, "p2": 1.3874}]},
          "mark": {"type": "rect", "fill": "#ff9a98", "stroke": "#333333", "strokeWidth": 1, "cornerRadius": 20},
          "encoding": {"x2": {"field": "n2"}, "y2": {"field": "p2"}}
        },
        {
          "data": {"values": [{"n": 873.5, "p": 1.3919, "t": "USD/CAD dane 1H"}]},
          "mark": {"type": "text", "fontSize": 11, "color": "#000000", "align": "center", "baseline": "middle"},
          "encoding": {"text": {"field": "t"}}
        },
        {
          "data": {"values": [{"n": 0, "p": 1.4139, "t": "1 L: 1.39158 C: 1.39160"}]},
          "mark": {"type": "text", "fontSize": 10, "color": "#000000", "align": "left", "baseline": "middle", "dx": 2},
          "encoding": {"text": {"field": "t"}}
        },
        {
          "data": {"values": [{"n": 1252.5, "p": 1.3734}]},
          "mark": {
            "type": "point",
            "shape": "M -1 0 A 1 0.72 0 1 0 1 0 A 1 0.72 0 1 0 -1 0 Z",
            "size": 5100,
            "filled": false,
            "stroke": "#5ba51f",
            "strokeWidth": 2,
            "opacity": 1
          }
        },
        {
          "data": {"values": [{"n": 1251.5, "p": 1.3642, "c": "navy"}, {"n": 1303.5, "p": 1.3406, "c": "green"}]},
          "mark": {
            "type": "point",
            "shape": "M 0 -1 L 1 0 L 0.55 0 L 0.55 1 L -0.55 1 L -0.55 0 L -1 0 Z",
            "size": 470,
            "filled": true,
            "stroke": "#000000",
            "strokeWidth": 1,
            "opacity": 1
          },
          "encoding": {
            "fill": {"field": "c", "type": "nominal", "scale": {"domain": ["navy", "green"], "range": ["#003366", "#339900"]}, "legend": null}
          }
        },
        {
          "data": {"values": [{"n": 1541.5, "p": 1.3916, "t": "1.39160"}]},
          "mark": {"type": "tick", "orient": "horizontal", "size": 59, "thickness": 17, "color": "#808080", "opacity": 1}
        },
        {
          "data": {"values": [{"n": 1541.5, "p": 1.3916, "t": "1.39160"}]},
          "mark": {"type": "text", "fontSize": 10.5, "color": "#ffffff", "align": "center", "baseline": "middle"},
          "encoding": {"text": {"field": "t"}}
        }
      ]
    },
    {
      "width": 1571,
      "height": 20,
      "view": {"fill": "#f0f0f0", "stroke": null},
      "layer": [
        {
          "data": {"values": [{"t": "ngth Index( RSI(14,70,30), RSIBaseHI(14,70,30), RSIBaseLO(14,70,30) )", "pos": 0}]},
          "mark": {"type": "text", "align": "left", "baseline": "middle", "fontSize": 10, "color": "#000000", "dy": 0},
          "encoding": {
            "x": {"field": "pos", "type": "quantitative", "scale": {"domain": [0, 1]}, "axis": null},
            "text": {"field": "t"}
          }
        },
        {
          "data": {"values": [{"t": "×", "pos": 0.9943}]},
          "mark": {"type": "text", "align": "center", "baseline": "middle", "fontSize": 11, "color": "#000000", "dy": 0},
          "encoding": {
            "x": {"field": "pos", "type": "quantitative", "scale": {"domain": [0, 1]}, "axis": null},
            "text": {"field": "t"}
          }
        },
        {
          "data": {"values": [{"edge": 0}, {"edge": 1}]},
          "mark": {"type": "rule", "color": "#a0a0a0", "strokeWidth": 2, "clip": true},
          "encoding": {
            "x": {"datum": 0, "type": "quantitative", "scale": {"domain": [0, 1]}, "axis": null},
            "x2": {"datum": 1},
            "y": {"field": "edge", "type": "quantitative", "scale": {"domain": [0, 1]}, "axis": null}
          }
        }
      ]
    },
    {
      "width": 1511,
      "height": 156,
      "view": {"fill": "#ffffff", "stroke": null},
      "encoding": {
        "x": {
          "field": "n",
          "type": "quantitative",
          "scale": {"domain": [0, 1511], "nice": false, "zero": false},
          "axis": {
            "orient": "bottom",
            "title": null,
            "values": [9, 128.7, 248.4, 368.1, 487.8, 607.5, 727.2, 846.9, 966.6, 1086.3, 1206, 1325.7, 1445.4],
            "labelExpr": "['wrz 07','wrz 17','wrz 28','paź 08','paź 19','paź 28','lis 09','lis 18','lis 30','gru 09','gru 21','',''][round((datum.value - 9) / 119.7)]",
            "grid": false,
            "tickSize": 17,
            "tickColor": "#a0a0a0",
            "domainColor": "#a0a0a0",
            "labelAlign": "left",
            "labelBaseline": "middle",
            "labelPadding": -7,
            "labelOffset": 3,
            "labelFontSize": 10,
            "labelColor": "#000000",
            "labelOverlap": false,
            "labelFlush": false
          }
        },
        "y": {
          "field": "r",
          "type": "quantitative",
          "scale": {"domain": [3.72, 99.72], "nice": false, "zero": false},
          "axis": {
            "orient": "right",
            "title": null,
            "values": [12.32349, 24.64699, 36.97048, 49.29398, 61.61747, 73.94097, 86.26446],
            "labelExpr": "replace(format(datum.value, '.5f'), '.', ',')",
            "grid": false,
            "tickSize": 3,
            "tickColor": "#000000",
            "domainColor": "#000000",
            "labelPadding": 2,
            "labelFontSize": 10,
            "labelColor": "#000000",
            "labelOverlap": false
          }
        }
      },
      "layer": [
        {
          "data": {"name": "rsi"},
          "mark": {"type": "line", "color": "#1f70d8", "strokeWidth": 1, "clip": true}
        },
        {
          "data": {"values": [{"n": 0, "n2": 1245, "r": 70}, {"n": 0, "n2": 1245, "r": 30}]},
          "mark": {"type": "rule", "color": "#a0a0a0", "strokeWidth": 1.5, "clip": true},
          "encoding": {"x2": {"field": "n2"}}
        },
        {
          "data": {"values": [{"n": 1511, "n2": 1571, "r": 3.72}]},
          "mark": {"type": "rule", "color": "#a0a0a0", "strokeWidth": 1},
          "encoding": {"x2": {"field": "n2"}}
        }
      ]
    },
    {
      "width": 1571,
      "height": 1,
      "view": {"fill": "#a0a0a0", "stroke": null},
      "data": {"values": [{"t": ""}]},
      "mark": {"type": "text"},
      "encoding": {"text": {"field": "t"}}
    }
  ]
}
